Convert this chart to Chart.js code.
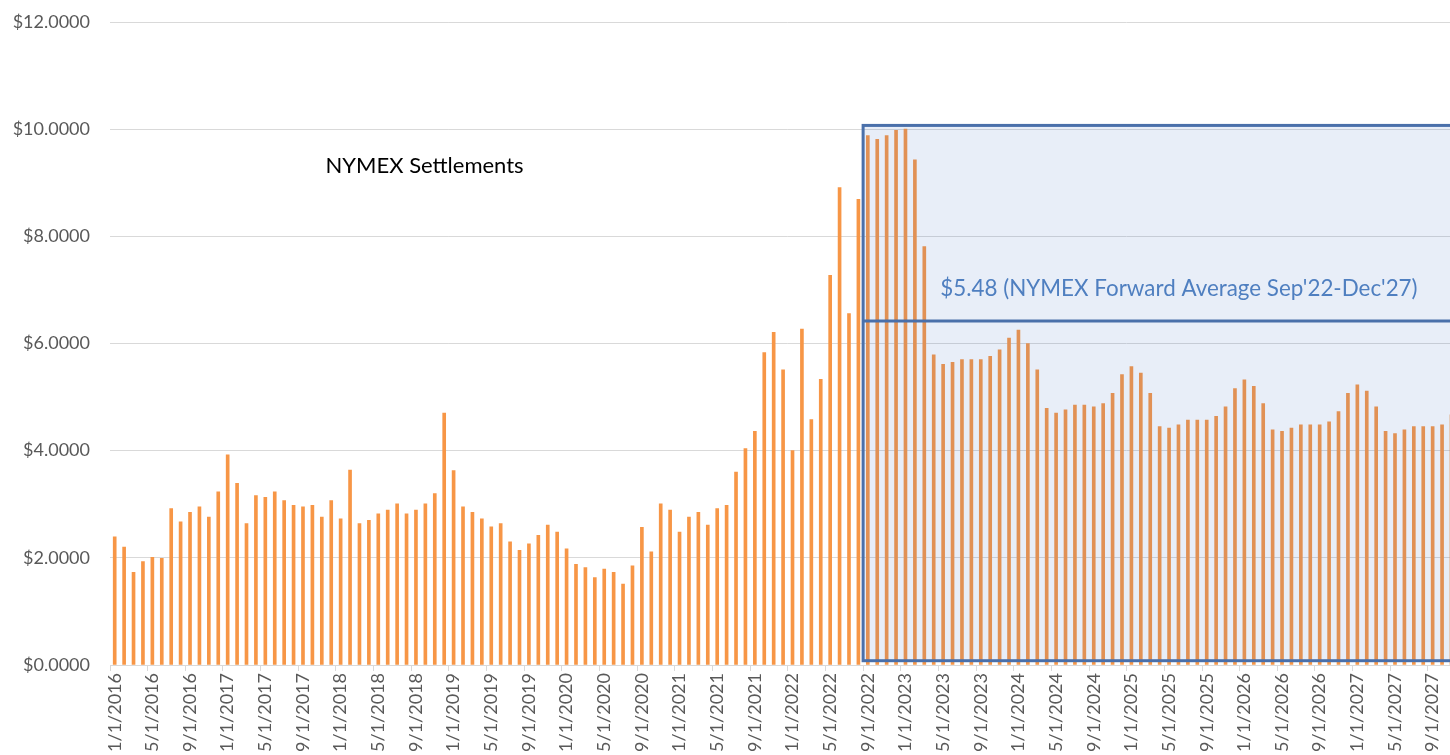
<!DOCTYPE html>
<html>
<head>
<meta charset="utf-8">
<script src="https://cdn.jsdelivr.net/npm/chart.js@4.4.1/dist/chart.umd.min.js"></script>
<style>
  html, body { margin: 0; padding: 0; background: #fff; overflow: hidden; }
  #wrap { width: 1500px; height: 755px; }
</style>
</head>
<body>
<div id="wrap"><canvas id="nymexChart" width="1500" height="755"></canvas></div>
<script>
// Monthly categories Jan 2016 .. Dec 2027
const firstYear = 2016;
const lastYear = 2027;
const months = [];
for (let y = firstYear; y <= lastYear; y++) {
    for (let m = 1; m <= 12; m++) months.push(m + '/1/' + y);
}

// NYMEX settlements + forward curve ($/MMBtu)
const prices2016 = [2.39, 2.20, 1.73, 1.93, 2.01, 1.99, 2.92, 2.67, 2.85, 2.95, 2.76, 3.23];
const prices2017 = [3.92, 3.39, 2.64, 3.16, 3.13, 3.23, 3.07, 2.98, 2.95, 2.98, 2.76, 3.07];
const prices2018 = [2.73, 3.64, 2.64, 2.70, 2.82, 2.89, 3.01, 2.82, 2.89, 3.01, 3.20, 4.70];
const prices2019 = [3.63, 2.95, 2.85, 2.73, 2.58, 2.64, 2.30, 2.14, 2.26, 2.42, 2.61, 2.48];
const prices2020 = [2.17, 1.88, 1.82, 1.63, 1.79, 1.73, 1.51, 1.85, 2.57, 2.11, 3.01, 2.89];
const prices2021 = [2.48, 2.76, 2.85, 2.61, 2.92, 2.98, 3.60, 4.04, 4.36, 5.83, 6.21, 5.51];
const prices2022 = [4.00, 6.27, 4.58, 5.33, 7.27, 8.91, 6.56, 8.69, 9.88, 9.81, 9.88, 9.98];
const prices2023 = [10.00, 9.43, 7.81, 5.79, 5.61, 5.65, 5.70, 5.70, 5.70, 5.76, 5.88, 6.10];
const prices2024 = [6.25, 6.00, 5.51, 4.79, 4.70, 4.76, 4.85, 4.85, 4.82, 4.88, 5.07, 5.42];
const prices2025 = [5.57, 5.45, 5.07, 4.45, 4.42, 4.48, 4.57, 4.57, 4.57, 4.64, 4.82, 5.16];
const prices2026 = [5.32, 5.20, 4.88, 4.39, 4.36, 4.42, 4.48, 4.48, 4.48, 4.54, 4.73, 5.07];
const prices2027 = [5.23, 5.11, 4.82, 4.36, 4.32, 4.39, 4.45, 4.45, 4.45, 4.48, 4.67, 5.00];

const prices = [].concat(prices2016, prices2017, prices2018, prices2019, prices2020, prices2021,
    prices2022, prices2023, prices2024, prices2025, prices2026, prices2027);

const yTicks = [0, 2, 4, 6, 8, 10, 12];

// forward window box + average line (as drawn in the picture)
const forwardStart = '9/1/2022';
const forwardLine = 6.42;
const forwardBoxTop = 10.07;
const forwardBoxBottom = 0.08;
const forwardLabel = "$5.48 (NYMEX Forward Average Sep'22-Dec'27)";
const settleLabel = 'NYMEX Settlements';

const FONT = 'Lato, "Open Sans", sans-serif';

const overlayPlugin = {
    id: 'overlay',
    afterDatasetsDraw(chart) {
        const { ctx, scales: { x, y }, chartArea } = chart;
        const cat = x.width / months.length;
        const pos = i => x.left + i * cat;
        const startIdx = months.indexOf(forwardStart);

        ctx.save();
        // shaded forward window
        const left = pos(startIdx);
        const right = chartArea.right + 20;
        const top = y.getPixelForValue(forwardBoxTop);
        const bottom = y.getPixelForValue(forwardBoxBottom);
        ctx.fillStyle = 'rgba(68, 114, 196, 0.12)';
        ctx.fillRect(left, top, right - left, bottom - top);
        ctx.strokeStyle = '#4a70aa';
        ctx.lineWidth = 3;
        ctx.strokeRect(left, top, right - left, bottom - top);

        // average line
        const ly = y.getPixelForValue(forwardLine);
        ctx.beginPath();
        ctx.moveTo(left, ly);
        ctx.lineTo(right, ly);
        ctx.stroke();

        // texts
        ctx.textBaseline = 'middle';
        ctx.textAlign = 'left';
        ctx.fillStyle = '#4f7fc0';
        ctx.font = '22.4px ' + FONT;
        ctx.fillText(forwardLabel, pos(88.2), y.getPixelForValue(7.02));

        ctx.fillStyle = '#000';
        ctx.font = '22px ' + FONT;
        ctx.fillText(settleLabel, pos(22.9), y.getPixelForValue(9.31));
        ctx.restore();
    }
};

new Chart(document.getElementById('nymexChart'), {
    type: 'bar',
    data: {
        labels: months,
        datasets: [{
            data: prices,
            backgroundColor: '#F79646',
            barThickness: 3
        }]
    },
    options: {
        responsive: false,
        animation: false,
        layout: { padding: { top: 22, right: 34.4, left: 0, bottom: 0 } },
        plugins: {
            legend: { display: false },
            tooltip: { enabled: false }
        },
        scales: {
            x: {
                offset: true,
                afterFit: s => { s.height = 90; s.paddingTop = 0; s.paddingBottom = 0; },
                grid: {
                    offset: true,
                    drawOnChartArea: false,
                    tickLength: 6,
                    color: c => (c.index % 4 === 0 ? '#d9d9d9' : 'rgba(0,0,0,0)')
                },
                border: { color: '#d9d9d9' },
                ticks: {
                    autoSkip: false,
                    maxRotation: 90,
                    minRotation: 90,
                    padding: 2,
                    color: '#595959',
                    font: { family: FONT, size: 18 },
                    callback: (v, i) => (i % 4 === 0 ? months[i] : '')
                }
            },
            y: {
                min: 0,
                max: 12,
                afterFit: s => { s.width = 110; s.paddingTop = 0; s.paddingBottom = 0; },
                afterBuildTicks: s => { s.ticks = yTicks.map(v => ({ value: v })); },
                grid: { color: '#d9d9d9', drawTicks: false },
                border: { display: false },
                ticks: {
                    padding: 20,
                    color: '#595959',
                    font: { family: FONT, size: 18 },
                    callback: v => '$' + v.toFixed(4)
                }
            }
        }
    },
    plugins: [overlayPlugin]
});
</script>
</body>
</html>
